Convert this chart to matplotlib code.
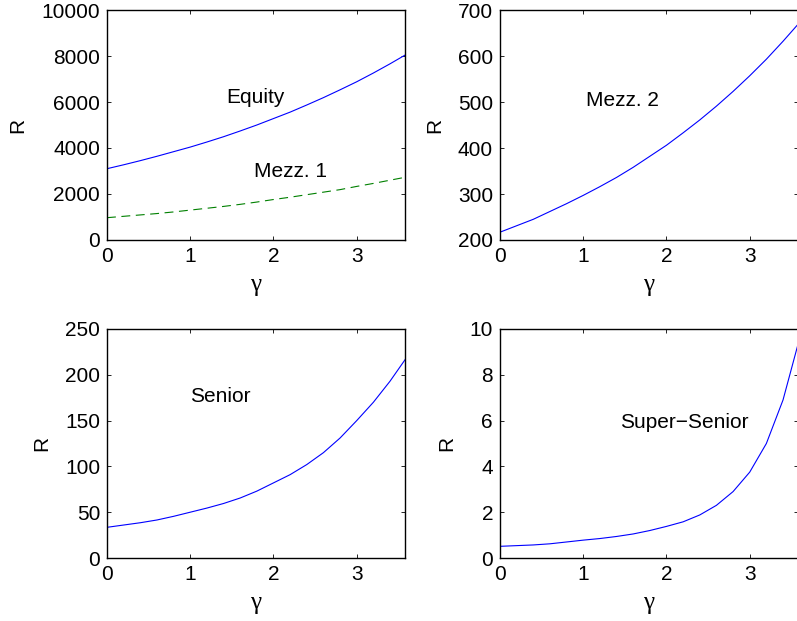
import matplotlib
matplotlib.use("Agg")
import matplotlib.pyplot as plt

plt.rcParams['font.family'] = ['Liberation Sans', 'DejaVu Sans']
plt.rcParams['font.size'] = 15
plt.rcParams['mathtext.fontset'] = 'custom'
plt.rcParams['mathtext.rm'] = 'Liberation Serif'
plt.rcParams['mathtext.it'] = 'Liberation Serif'

gamma = [0.0, 0.2, 0.4, 0.6, 0.8, 1.0, 1.2, 1.4, 1.6, 1.8,
         2.0, 2.2, 2.4, 2.6, 2.8, 3.0, 3.2, 3.4, 3.6]

equity = [3100, 3270, 3450, 3640, 3840, 4040, 4260, 4490, 4740, 5000,
          5280, 5560, 5870, 6190, 6530, 6880, 7260, 7660, 8080]
mezz1 = [970, 1030, 1090, 1150, 1220, 1300, 1380, 1460, 1550, 1650,
         1760, 1860, 1970, 2080, 2190, 2330, 2460, 2600, 2740]
mezz2 = [217, 231, 245, 262, 279, 297, 316, 336, 358, 382,
         406, 433, 461, 491, 523, 557, 593, 632, 673]
senior = [33.5, 36, 38.5, 41.5, 45.5, 50, 54.5, 59.5, 65.5, 73,
          82, 91, 102, 115, 131, 150, 170, 193, 219]
super_senior = [0.51, 0.54, 0.57, 0.62, 0.70, 0.78, 0.85, 0.94, 1.05, 1.2,
                1.38, 1.58, 1.88, 2.3, 2.9, 3.75, 5.0, 6.9, 9.6]

fig = plt.figure(figsize=(7.97, 6.21), dpi=100)

W, H = 797, 621
def add_axes(left, top, right, bottom):
    return fig.add_axes([left / W, 1 - bottom / H, (right - left) / W, (bottom - top) / H])

ax1 = add_axes(107, 10, 405, 240)
ax2 = add_axes(500, 10, 798, 240)
ax3 = add_axes(107, 329, 405, 558)
ax4 = add_axes(500, 329, 798, 558)

ax1.plot(gamma, equity, color='blue', lw=0.8)
ax1.plot(gamma, mezz1, color=(0, 0.5, 0), lw=0.8, ls=(0, (8, 5)))
ax1.set_ylim(0, 10000)
ax1.set_yticks([0, 2000, 4000, 6000, 8000, 10000])
ax1.text(1.43, 6200, 'Equity', va='center')
ax1.text(1.77, 2970, 'Mezz. 1', va='center')

ax2.plot(gamma, mezz2, color='blue', lw=0.8)
ax2.set_ylim(200, 700)
ax2.set_yticks([200, 300, 400, 500, 600, 700])
ax2.text(1.03, 503, 'Mezz. 2', va='center')

ax3.plot(gamma, senior, color='blue', lw=0.8)
ax3.set_ylim(0, 250)
ax3.set_yticks([0, 50, 100, 150, 200, 250])
ax3.text(1.0, 176, 'Senior', va='center')

ax4.plot(gamma, super_senior, color='blue', lw=0.8)
ax4.set_ylim(0, 10)
ax4.set_yticks([0, 2, 4, 6, 8, 10])
ax4.text(1.44, 5.9, 'Super\u2212Senior', va='center')

for ax in (ax1, ax2, ax3, ax4):
    ax.set_xlim(0, 3.58)
    ax.set_xticks([0, 1, 2, 3])
    ax.tick_params(direction='in', top=True, right=True, length=3, width=0.6)
    ax.tick_params(axis='x', pad=5)
    ax.tick_params(axis='y', pad=5)
    for s in ax.spines.values():
        s.set_linewidth(1.0)
    ax.set_xlabel(r'$\gamma$', fontsize=18, labelpad=6)
    ax.set_ylabel('R', labelpad=10)

fig.savefig('out.png', dpi=100)
